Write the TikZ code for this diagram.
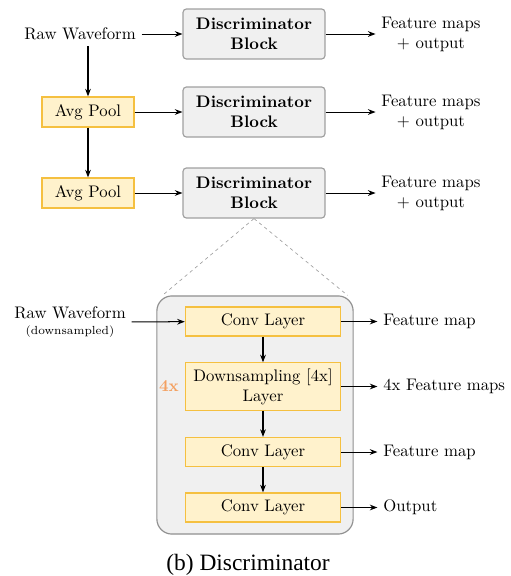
\documentclass[tikz,border=0pt]{standalone}
\usepackage{fontspec}
\usepackage{xcolor}
\usepackage{tikz}
\usetikzlibrary{arrows.meta,positioning}
\newfontfamily\capfont{Liberation Serif}
\definecolor{blkgray}{HTML}{F0F0F0}
\definecolor{blkedge}{HTML}{A0A0A0}
\definecolor{boxedge}{HTML}{909090}
\definecolor{poolfill}{HTML}{FFF2CC}
\definecolor{pooledge}{HTML}{F5C040}
\definecolor{repcol}{HTML}{F4A060}

\begin{document}
\begin{tikzpicture}[x=0.021cm, y=-0.021cm,
    block/.style={draw=blkedge, fill=blkgray, rounded corners=2pt, line width=0.7pt,
                  minimum width=2.98cm, minimum height=1.05cm, align=center, font=\bfseries},
    pool/.style={draw=pooledge, fill=poolfill, line width=0.7pt,
                 minimum width=1.93cm, minimum height=0.63cm},
    layer/.style={pool, minimum width=3.26cm, minimum height=0.61cm, align=center},
    outtxt/.style={align=center},
    arr/.style={-{Stealth[length=1.6mm]}, line width=0.6pt}]
  \useasboundingbox (0,0) rectangle (511,576);
  % multi-scale discriminator
  \node (raw) at (80,34) {Raw Waveform};
  \node[block] (d1) at (254,34) {Discriminator\\Block};
  \node[pool]  (ap1) at (88,112) {Avg Pool};
  \node[block] (d2) at (254,112) {Discriminator\\Block};
  \node[pool]  (ap2) at (88,193) {Avg Pool};
  \node[block] (d3) at (254,193) {Discriminator\\Block};
  \node[outtxt, right=1.05cm of d1] (o1) {Feature maps\\+ output};
  \node[outtxt, right=1.05cm of d2] (o2) {Feature maps\\+ output};
  \node[outtxt, right=1.05cm of d3] (o3) {Feature maps\\+ output};
  \draw[arr] (raw) -- (d1);
  \draw[arr] (raw.south -| ap1) -- (ap1);
  \draw[arr] (ap1) -- (ap2);
  \draw[arr] (ap1) -- (d2);
  \draw[arr] (ap2) -- (d3);
  \draw[arr] (d1) -- (o1);
  \draw[arr] (d2) -- (o2);
  \draw[arr] (d3) -- (o3);

  % zoomed block
  \node[draw=boxedge, fill=blkgray, line width=0.7pt, rounded corners=9pt,
        minimum width=4.12cm, minimum height=5cm] (zoom) at (255,415) {};
  \draw[dashed, draw=blkedge, dash pattern=on 2pt off 2pt]
    (d3.south) -- ([xshift=0.13cm]zoom.north west);
  \draw[dashed, draw=blkedge, dash pattern=on 2pt off 2pt]
    (d3.south) -- ([xshift=-0.13cm]zoom.north east);
  \node[layer] (c1)  at (263,321.5) {Conv Layer};
  \node[layer, minimum height=0.99cm] (dsl) at (263,386.5) {Downsampling [4x]\\Layer};
  \node[layer] (c2)  at (263,452) {Conv Layer};
  \node[layer] (c3)  at (263,507.5) {Conv Layer};
  \node[left=0pt of dsl, text=repcol, font=\bfseries] (rep) {4x};
  \node[align=center] (rawd) at (70,322) {Raw Waveform\\[-2pt]{\scriptsize (downsampled)}};
  \node[right=0.76cm of c1, anchor=west] (fm1) {Feature map};
  \node[right=0.76cm of dsl, anchor=west] (fm2) {4x Feature maps};
  \node[right=0.76cm of c2, anchor=west] (fm3) {Feature map};
  \node[right=0.76cm of c3, anchor=west] (out) {Output};
  \draw[arr] (rawd) -- (c1);
  \draw[arr] (c1) -- (dsl);
  \draw[arr] (dsl) -- (c2);
  \draw[arr] (c2) -- (c3);
  \draw[arr] (c1) -- (fm1);
  \draw[arr] (dsl) -- (fm2);
  \draw[arr] (c2) -- (fm3);
  \draw[arr] (c3) -- (out);

  \node[font=\capfont\fontsize{14}{17}\selectfont] (cap) at (248,565) {(b) Discriminator};
\end{tikzpicture}
\end{document}
